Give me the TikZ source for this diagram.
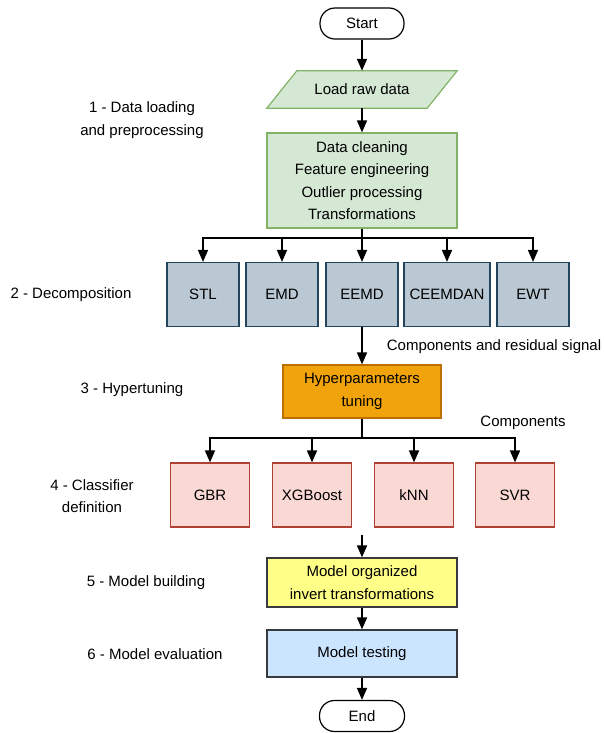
\documentclass[tikz,border=0pt]{standalone}
\usepackage{fontspec}
\setmainfont{Liberation Sans}
\usetikzlibrary{arrows.meta,backgrounds}

\definecolor{prepfill}{HTML}{D5E8D4}
\definecolor{prepdraw}{HTML}{82B366}
\definecolor{decfill}{HTML}{BAC8D3}
\definecolor{decdraw}{HTML}{23445D}
\definecolor{hypfill}{HTML}{F0A30A}
\definecolor{hypdraw}{HTML}{BD7000}
\definecolor{clffill}{HTML}{FAD9D5}
\definecolor{clfdraw}{HTML}{AE4132}
\definecolor{bldfill}{HTML}{FFFF88}
\definecolor{tstfill}{HTML}{CCE5FF}
\definecolor{grydraw}{HTML}{36393D}

\begin{document}
\begin{tikzpicture}[
    x=1pt, y=-1pt,
    font=\fontsize{15}{22.5}\selectfont,
    box/.style={rectangle, draw, line width=1.2pt, inner sep=0pt, align=center},
    term/.style={box, draw=black, rounded corners=15pt, minimum width=84pt, minimum height=31pt},
    dec/.style={box, fill=decfill, draw=decdraw, minimum width=72pt, minimum height=64pt},
    clf/.style={box, fill=clffill, draw=clfdraw, minimum width=79pt, minimum height=64pt},
    wide/.style={box, draw=grydraw, minimum width=190pt},
    arrow/.style={-{Triangle[length=12pt,width=10pt]}, line width=1.6pt},
    line/.style={line width=1.6pt},
    step label/.style={align=center, inner sep=0pt}
]
    \useasboundingbox (0,0) rectangle (603,733);

    % main column
    \node[term] (ST) at (362,23.5) {Start};
    \node[rectangle, inner sep=0pt, minimum width=160pt, minimum height=37pt] (LD) at (362,89.5) {Load raw data};
    \begin{scope}[on background layer]
        \draw[fill=prepfill, draw=prepdraw, line width=1.2pt]
            ([xshift=-15pt]LD.south west) -- ([xshift=15pt]LD.north west)
            -- ([xshift=15pt]LD.north east) -- ([xshift=-15pt]LD.south east) -- cycle;
    \end{scope}
    \node[box, fill=prepfill, draw=prepdraw, minimum width=190pt, minimum height=95pt] (PP) at (362,180.5)
        {Data cleaning\\Feature engineering\\Outlier processing\\Transformations};

    \node[dec] (STL) at (203,294.5) {STL};
    \node[dec] (EMD) at (282,294.5) {EMD};
    \node[dec] (EEMD) at (362,294.5) {EEMD};
    \node[dec, minimum width=86pt] (CEEMDAN) at (447,294.5) {CEEMDAN};
    \node[dec] (EWT) at (533,294.5) {EWT};

    \node[box, fill=hypfill, draw=hypdraw, minimum width=158pt, minimum height=53pt] (HT) at (362,391.5)
        {Hyperparameters\\tuning};

    \node[clf] (GBR) at (210,495) {GBR};
    \node[clf] (XGB) at (312,495) {XGBoost};
    \node[clf] (KNN) at (414,495) {kNN};
    \node[clf] (SVR) at (515,495) {SVR};

    \node[wide, fill=bldfill, minimum height=49pt] (MB) at (362,582.5) {Model organized\\invert transformations};
    \node[wide, fill=tstfill, minimum height=47pt] (MT) at (362,653.5) {Model testing};
    \node[term, minimum width=85pt] (EN) at (362,716) {End};

    \coordinate (B1) at (362,238);
    \coordinate (B2) at (362,438);
    \coordinate (JN) at (362,535);

    \draw[arrow] (ST) -- (LD);
    \draw[arrow] (LD) -- (PP);
    \draw[line] (PP) -- (B1);
    \foreach \n in {STL,EMD,EEMD,CEEMDAN,EWT}
        \draw[arrow] (B1) -| (\n.north);
    \draw[arrow] (EEMD) -- (HT);
    \draw[line] (HT) -- (B2);
    \foreach \n in {GBR,XGB,KNN,SVR}
        \draw[arrow] (B2) -| (\n.north);
    \draw[arrow] (JN) -- (MB);
    \draw[arrow] (MB) -- (MT);
    \draw[arrow] (MT) -- (EN);

    % side notes
    \node[step label] (RS) at (494,347) {Components and residual signal};
    \node[step label] (CP) at (523,423) {Components};

    % stage labels
    \node[step label] (S1) at (142,120) {1 - Data loading\\and preprocessing};
    \node[step label] (S2) at (71,295) {2 - Decomposition};
    \node[step label] (S3) at (132,390) {3 - Hypertuning};
    \node[step label] (S4) at (92,496) {4 - Classifier\\definition};
    \node[step label] (S5) at (146,583) {5 - Model building};
    \node[step label] (S6) at (155,654) {6 - Model evaluation};
\end{tikzpicture}
\end{document}
